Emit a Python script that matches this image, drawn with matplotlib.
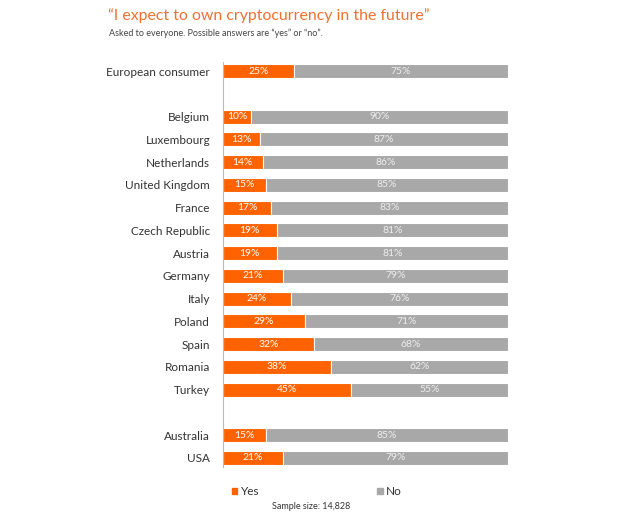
import numpy as np
import matplotlib
matplotlib.use("Agg")
from matplotlib import pyplot as plt
from matplotlib.patches import Rectangle

plt.rcParams['font.family'] = ['Lato', 'DejaVu Sans']

countries = ["European consumer", "", "Belgium", "Luxembourg", "Netherlands",
             "United Kingdom", "France", "Czech Republic", "Austria", "Germany",
             "Italy", "Poland", "Spain", "Romania", "Turkey", "", "Australia", "USA"]
yes = [25, None, 10, 13, 14, 15, 17, 19, 19, 21, 24, 29, 32, 38, 45, None, 15, 21]
no = [75, None, 90, 87, 86, 85, 83, 81, 81, 79, 76, 71, 68, 62, 55, None, 85, 79]

orange = "#FF6200"
grey = "#A8A8A8"

fig = plt.figure(figsize=(6.4, 5.28), dpi=100)
ax = fig.add_axes([0.348, 0.1155, 0.446, 0.767])

for i, (c, y, n) in enumerate(zip(countries, yes, no)):
    if y is None:
        continue
    ax.barh(i, y, height=0.62, color=orange, edgecolor="white", linewidth=0.8)
    ax.barh(i, n, left=y, height=0.62, color=grey, edgecolor="white", linewidth=0.8)
    ax.text(y / 2, i, f"{y}%", ha="center", va="center", color="white", fontsize=7.5)
    ax.text(y + n / 2, i, f"{n}%", ha="center", va="center", color="#EEEEEE", fontsize=7.5)

ax.set_yticks([i for i, c in enumerate(countries) if c])
ax.set_yticklabels([c for c in countries if c], fontsize=8.5, color="#333333")
ax.tick_params(axis="y", length=0, pad=9)
ax.set_xlim(0, 100)
ax.set_ylim(17.4, -0.4)
ax.set_xticks([])
for s in ["top", "right", "bottom"]:
    ax.spines[s].set_visible(False)
ax.spines["left"].set_color("#BBBBBB")
ax.spines["left"].set_linewidth(0.8)

fig.text(0.169, 0.97, "\u201cI expect to own cryptocurrency in the future\u201d",
         color="#F07030", fontsize=11.4, va="center", ha="left")
fig.text(0.17, 0.937, "Asked to everyone. Possible answers are \u201cyes\u201d or \u201cno\u201d.",
         color="#444444", fontsize=6.5, va="center", ha="left")

# legend
fig.patches.append(Rectangle((0.362, 0.065), 0.009, 0.011, transform=fig.transFigure,
                             color=orange, figure=fig))
fig.text(0.376, 0.070, "Yes", fontsize=8.5, va="center", color="#333333")
fig.patches.append(Rectangle((0.589, 0.065), 0.009, 0.011, transform=fig.transFigure,
                             color=grey, figure=fig))
fig.text(0.603, 0.070, "No", fontsize=8.5, va="center", color="#333333")
fig.text(0.425, 0.041, "Sample size: 14,828", fontsize=6.5, va="center", color="#333333")

fig.savefig("out.png", dpi=100)
